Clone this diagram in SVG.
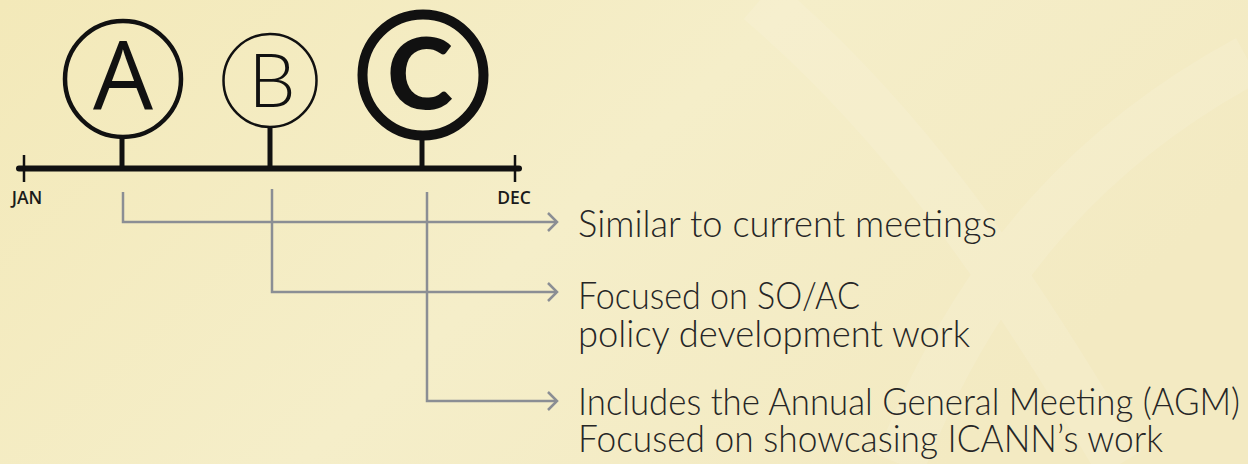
<svg xmlns="http://www.w3.org/2000/svg" width="1248" height="464" viewBox="0 0 1248 464">
  <defs>
    <linearGradient id="bg" x1="0" y1="0" x2="1" y2="0.4">
      <stop offset="0" stop-color="#f3e9b9"/>
      <stop offset="0.55" stop-color="#f5eec9"/>
      <stop offset="1" stop-color="#f3eac2"/>
    </linearGradient>
    <marker id="chev" markerUnits="userSpaceOnUse" markerWidth="14" markerHeight="22" refX="11" refY="10" orient="auto" viewBox="0 0 14 22">
      <path d="M2,1 L11,10 L2,19" fill="none" stroke="#8b8e94" stroke-width="2.5"/>
    </marker>
    <style>
      .tl { stroke:#111; fill:none; }
      .ring { fill:none; stroke:#111; }
      .conn { fill:none; stroke:#8b8e94; stroke-width:2.5; marker-end:url(#chev); }
      .lbl { font-family:Lato, "Noto Sans", sans-serif; font-weight:300; font-size:37px; fill:#262626; }
      .mon { font-family:"Open Sans", "Noto Sans", sans-serif; font-weight:600; font-size:17.5px; fill:#1a1a1a; }
    </style>
  </defs>
  <rect width="1248" height="464" fill="url(#bg)"/>
  <g opacity="0.1" fill="none" stroke="#ffffff" stroke-width="50">
    <path d="M760,0 C900,120 1000,260 1120,464"/>
    <path d="M1248,60 C1100,140 980,260 900,464"/>
  </g>

  <g id="timeline">
    <line class="tl" x1="19" y1="168.5" x2="519" y2="168.5" stroke-width="6" stroke-linecap="round"/>
    <line class="tl" x1="24" y1="155" x2="24" y2="182" stroke-width="2.5"/>
    <line class="tl" x1="515" y1="155" x2="515" y2="182" stroke-width="2.5"/>
    <text class="mon" x="27" y="204" text-anchor="middle">JAN</text>
    <text class="mon" x="514" y="204" text-anchor="middle">DEC</text>
  </g>

  <g id="node-a">
    <line class="tl" x1="122" y1="137" x2="122" y2="168" stroke-width="5"/>
    <circle class="ring" cx="123" cy="79" r="58" stroke-width="4.5"/>
    <text x="123" y="110" text-anchor="middle" font-family="'Open Sans', 'Noto Sans', sans-serif" font-weight="400" font-size="95" fill="#111">A</text>
  </g>

  <g id="node-b">
    <line class="tl" x1="270" y1="127" x2="270" y2="168" stroke-width="5"/>
    <circle class="ring" cx="270" cy="80.5" r="46.5" stroke-width="2.5"/>
    <text x="272" y="107" text-anchor="middle" font-family="Lato, 'Noto Sans', sans-serif" font-weight="300" font-size="75" fill="#111">B</text>
  </g>

  <g id="node-c">
    <line class="tl" x1="422" y1="138" x2="422" y2="168" stroke-width="5"/>
    <circle class="ring" cx="423" cy="75" r="60.5" stroke-width="10"/>
    <text x="420" y="109" text-anchor="middle" font-family="Lato, 'Noto Sans', sans-serif" font-weight="900" font-size="100" fill="#111">C</text>
  </g>

  <g id="connectors">
    <path class="conn" d="M123,192 V222 H557"/>
    <path class="conn" d="M272,189 V292 H557"/>
    <path class="conn" d="M427,192 V401 H557"/>
  </g>

  <g id="label-a">
    <text class="lbl" x="578" y="237" textLength="419" lengthAdjust="spacingAndGlyphs">Similar to current meetings</text>
  </g>
  <g id="label-b">
    <text class="lbl" x="578" y="309" textLength="282" lengthAdjust="spacingAndGlyphs">Focused on SO/AC</text>
    <text class="lbl" x="578" y="347" textLength="392" lengthAdjust="spacingAndGlyphs">policy development work</text>
  </g>
  <g id="label-c">
    <text class="lbl" x="578" y="415" textLength="662" lengthAdjust="spacingAndGlyphs">Includes the Annual General Meeting (AGM)</text>
    <text class="lbl" x="578" y="452" textLength="585" lengthAdjust="spacingAndGlyphs">Focused on showcasing ICANN’s work</text>
  </g>
</svg>
